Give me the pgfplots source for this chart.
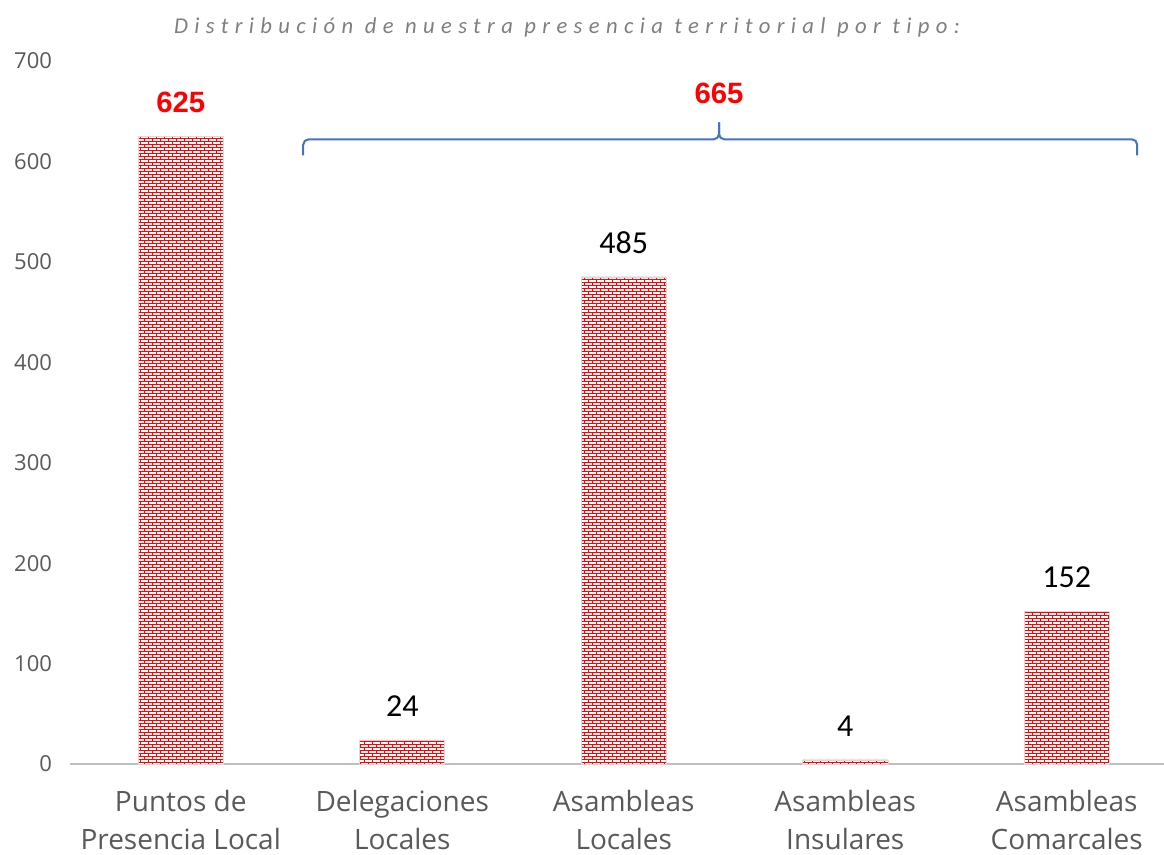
\documentclass[border=0pt]{standalone}
\usepackage{pgfplots}
\pgfplotsset{compat=1.18}
\usepackage{fontspec}
\setmainfont{Open Sans}
\newfontfamily\calib{Carlito}
\newfontfamily\calibsp[LetterSpace=28, Ligatures=NoCommon]{Carlito}
\newfontfamily\arialb{Liberation Sans}
\usetikzlibrary{patterns}
\definecolor{txtgray}{HTML}{595959}
\definecolor{titgray}{HTML}{7F7F7F}
\definecolor{axgray}{HTML}{BFBFBF}
\definecolor{brace}{HTML}{4472C4}
\pgfdeclarepatternformonly{smallbricks}{\pgfqpoint{-0.5pt}{-0.5pt}}{\pgfqpoint{6.5pt}{5pt}}{\pgfqpoint{6pt}{4.5pt}}{
  \pgfsetlinewidth{0.55pt}
  \pgfpathmoveto{\pgfqpoint{0pt}{0pt}}\pgfpathlineto{\pgfqpoint{6pt}{0pt}}
  \pgfpathmoveto{\pgfqpoint{0pt}{2.25pt}}\pgfpathlineto{\pgfqpoint{6pt}{2.25pt}}
  \pgfpathmoveto{\pgfqpoint{0pt}{0pt}}\pgfpathlineto{\pgfqpoint{0pt}{2.25pt}}
  \pgfpathmoveto{\pgfqpoint{3pt}{2.25pt}}\pgfpathlineto{\pgfqpoint{3pt}{4.5pt}}
  \pgfusepath{stroke}}
\begin{document}
\begin{tikzpicture}
\begin{axis}[
  scale only axis,
  width=820.5pt, height=527.25pt,
  xmin=-0.5, xmax=4.439,
  ymin=0, ymax=700,
  ytick={0,100,...,700},
  xtick={0,1,2,3,4},
  /pgf/number format/assume math mode=true,
  xticklabels={{Puntos de\\Presencia Local},{Delegaciones\\Locales},{Asambleas\\Locales},{Asambleas\\Insulares},{Asambleas\\Comarcales}},
  xticklabel style={align=center, font=\fontsize{21}{28.5}\selectfont, text=txtgray, yshift=-16pt},
  yticklabel style={font=\fontsize{16.5}{20}\selectfont, text=txtgray, xshift=-10pt},
  major tick length=0pt,
  axis x line*=bottom, axis y line*=left,
  y axis line style={draw=none},
  x axis line style={draw=axgray, line width=2.2pt},
  clip=false,
  ybar, bar width=63.75pt, bar shift=0pt,
  nodes near coords={\pgfmathprintnumber[assume math mode=true]{\pgfplotspointmeta}},
  nodes near coords style={anchor=center, yshift=25.5pt},
]
\addplot[fill=white, draw=axgray!60, line width=0.4pt,
  postaction={pattern=smallbricks, pattern color=red},
  nodes near coords style={text=red, font=\arialb\bfseries\fontsize{22}{26}\selectfont}]
  coordinates {(0,625)};
\addplot[fill=white, draw=axgray!60, line width=0.4pt,
  postaction={pattern=smallbricks, pattern color=red},
  nodes near coords style={text=black, font=\calib\fontsize{24}{28}\selectfont}]
  coordinates {(1,24) (2,485) (3,4) (4,152)};
\draw[brace, line width=1.5pt, rounded corners=4pt]
  (axis cs:0.553,606) |- (axis cs:2.43,622) -- (axis cs:2.43,639);
\draw[brace, line width=1.5pt, rounded corners=4pt]
  (axis cs:4.318,606) |- (axis cs:2.43,622) -- (axis cs:2.43,639);
\node[text=red, font=\arialb\bfseries\fontsize{22}{26}\selectfont] at (axis cs:2.43,668) {665};
\end{axis}
\node[text=titgray, font=\calibsp\itshape\fontsize{17}{20}\selectfont] at (372.75pt,552.75pt) {Distribución de nuestra presencia territorial por tipo:};
\pgfresetboundingbox
\path (-52.5pt,-68.25pt) rectangle (820.5pt,573pt);
\end{tikzpicture}
\end{document}
